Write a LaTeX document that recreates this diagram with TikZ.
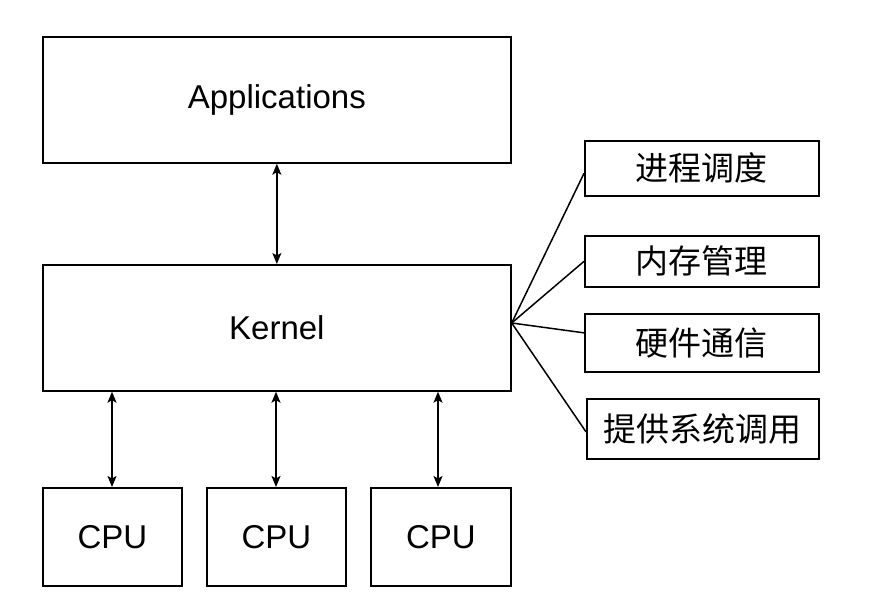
\documentclass[tikz,border=0pt]{standalone}
\usepackage{fontspec}
\setmainfont{Liberation Sans}
\newfontfamily\cjk{Noto Sans CJK SC}
\usetikzlibrary{arrows.meta,calc}
\begin{document}
\begin{tikzpicture}[x=1pt,y=-1pt,
  box/.style={draw,line width=1.7pt,inner sep=0pt,anchor=north west,font=\fontsize{33}{38}\selectfont},
  cbox/.style={box,font=\cjk\fontsize{33}{38}\selectfont},
  conn/.style={line width=1.5pt,{Stealth[length=11pt,width=9pt,inset=2.5pt]}-{Stealth[length=11pt,width=9pt,inset=2.5pt]}},
  fan/.style={line width=1.5pt}]
\useasboundingbox (0,0) rectangle (886,612);
\fill[white] (0,0) rectangle (886,612);
\node[box,minimum width=468pt,minimum height=126pt] (app) at (42,36) {Applications};
\node[box,minimum width=468pt,minimum height=126pt] (ker) at (42,264) {Kernel};
\node[box,minimum width=139pt,minimum height=98pt] (c1) at (42,487) {CPU};
\node[box,minimum width=139pt,minimum height=98pt] (c2) at (206,487) {CPU};
\node[box,minimum width=140pt,minimum height=98pt] (c3) at (370,487) {CPU};
\node[cbox,minimum width=234pt,minimum height=55pt] (p1) at (584,140) {进程调度};
\node[cbox,minimum width=234pt,minimum height=51pt] (p2) at (584,235) {内存管理};
\node[cbox,minimum width=234pt,minimum height=58pt] (p3) at (584,313) {硬件通信};
\node[cbox,minimum width=232pt,minimum height=60pt] (p4) at (586,398) {提供系统调用};
\draw[conn] (app.south) -- (ker.north);
\draw[conn] (c1.north -| 112,0) -- (ker.south -| 112,0);
\draw[conn] (c2.north -| 276,0) -- (ker.south -| 276,0);
\draw[conn] (c3.north -| 438,0) -- (ker.south -| 438,0);
\coordinate (hub) at (ker.east |- 0,323);
\draw[fan] (hub) -- ([yshift=-5pt]p1.west);
\draw[fan] (hub) -- (p2.west);
\draw[fan] (hub) -- ([yshift=10pt]p3.west);
\draw[fan] (hub) -- ([yshift=-3pt]p4.west);
\end{tikzpicture}
\end{document}
